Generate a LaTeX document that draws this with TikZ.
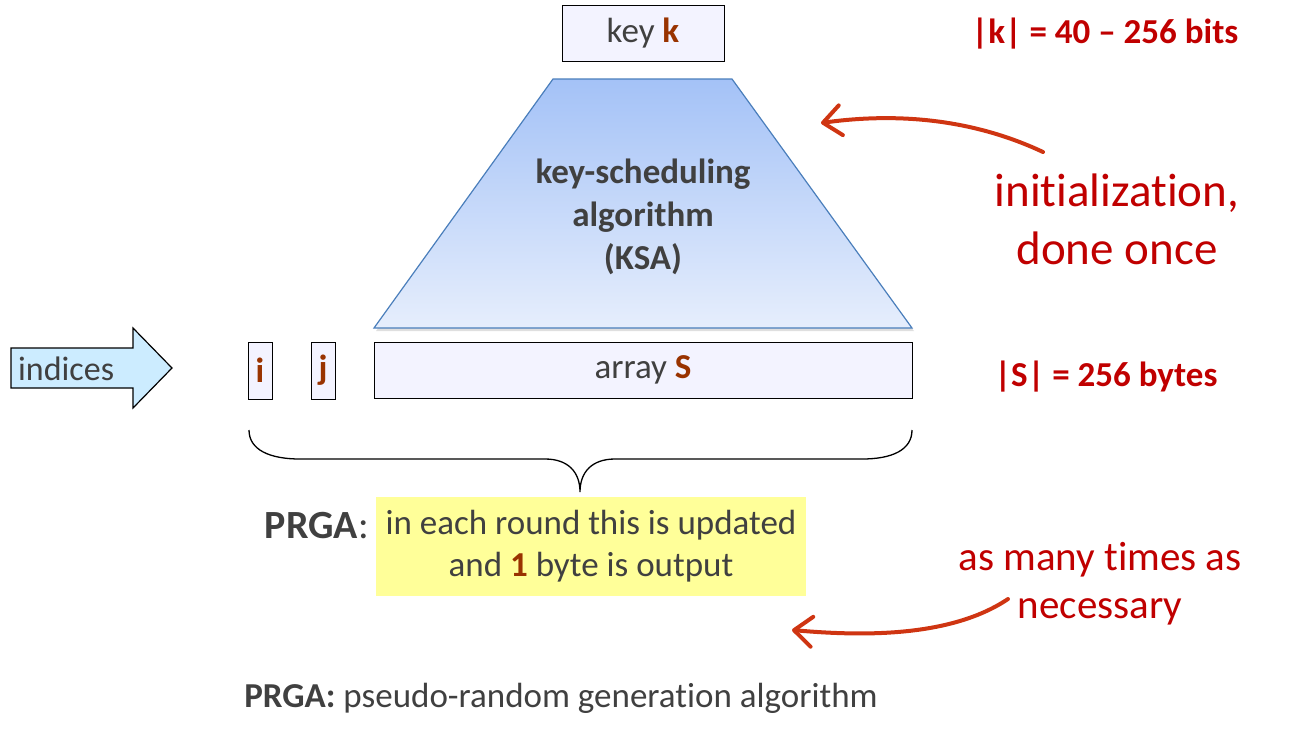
\documentclass[tikz,border=0pt]{standalone}
\usepackage{fontspec}
\setmainfont[Ligatures={NoCommon,TeX}]{Carlito}
\usetikzlibrary{arrows.meta,shadows}

\definecolor{txtgrey}{HTML}{404040}
\definecolor{notered}{HTML}{C00000}
\definecolor{varbrown}{HTML}{993300}
\definecolor{boxlav}{HTML}{F3F3FF}
\definecolor{idxblue}{HTML}{CCECFF}
\definecolor{prgayellow}{HTML}{FFFF99}
\definecolor{ksaedge}{HTML}{4A7EBB}
\definecolor{ksatop}{HTML}{A4C2F7}
\definecolor{ksabot}{HTML}{E6EEFC}
\definecolor{handred}{HTML}{CF3512}

\newcommand{\var}[1]{\textbf{\textcolor{varbrown}{#1}}}
\newcommand{\fsz}[2]{\fontsize{#1}{#2}\selectfont}
\newcommand{\tsep}{t\kern0pt}

\tikzset{
  cell/.style={draw=black, fill=boxlav, inner sep=0pt, text=txtgrey, font=\fsz{35}{40}},
  note/.style={text=notered, align=center, inner sep=0pt},
  hand/.style={draw=handred, line width=4pt, line cap=round,
    -{Straight Barb[length=18pt, width=30pt, round]}}
}

\begin{document}
\begin{tikzpicture}[x=1pt, y=-1pt]
    \useasboundingbox (0,0) rectangle (1290,740);

    % Clave
    \node[cell, minimum width=162pt, minimum height=56pt] (key) at (643,33) {key \var{k}};

    % KSA
    \path[draw=ksaedge, line width=1.2pt, top color=ksatop, bottom color=ksabot,
      drop shadow={shadow xshift=2pt, shadow yshift=-3pt, opacity=0.25}]
      (553,79) -- (732,79) -- (912,328) -- (374,328) -- cycle;
    \node[align=center, text=txtgrey, font=\bfseries\fsz{35}{43}] (ksa) at (643,217)
      {key-scheduling\\algorithm\\(KSA)};

    % Estado
    \node[cell, minimum width=538pt, minimum height=56pt] (arr) at (643,370) {array \var{S}};
    \node[cell, minimum width=24pt, minimum height=57pt] (i) at (260,370.5) {\var{i}};
    \node[cell, minimum width=24pt, minimum height=57pt] (j) at (323,370.5) {\var{j}};

    % Indices
    \draw[fill=idxblue, line width=1.2pt, line join=miter]
      (11,348) -- (133,348) -- (133,328) -- (172,368) -- (133,408) -- (133,388) -- (11,388) -- cycle;
    \node[anchor=west, text=txtgrey, font=\fsz{34}{36}, inner sep=0pt] (idx) at (18,369) {indices};

    % Llave
    \draw[line width=1.3pt]
      (249,430) .. controls (249,450) and (270,459) .. (300,459) -- (545,459)
      .. controls (568,459) and (580,472) .. (580,492)
      .. controls (580,472) and (592,459) .. (615,459) -- (862,459)
      .. controls (892,459) and (912,450) .. (912,430);

    % PRGA
    \node[fill=prgayellow, minimum width=430pt, minimum height=99pt, align=center,
      text=txtgrey, font=\fsz{35}{42}, inner sep=0pt] (prga) at (591,546.5)
      {in each round this is updated\\and \var{1} byte is output};
    \node[anchor=east, text=txtgrey, font=\fsz{40}{40}, inner sep=0pt] (prgalbl) at (369,526)
      {\textbf{PRGA}:};

    % Notas
    \node[note, font=\bfseries\fsz{35}{36}] (klen) at (1105,34) {|k| = 40 -- 256 bits};
    \node[note, font=\bfseries\fsz{35}{36}] (slen) at (1106,377) {|S| = 256 bytes};
    \node[note, font=\fsz{47}{58}] (init) at (1117,219) {ini\tsep ializa\tsep ion,\\done once};
    \node[note, font=\fsz{41}{48}] (many) at (1100,584) {as many \tsep imes as\\necessary};

    % Flechas
    \coordinate (initstart) at (1043,152);
    \coordinate (ksatip) at (821,123);
    \coordinate (manystart) at (1008,599);
    \coordinate (prgatip) at (792,630);
    \draw[hand] (initstart) .. controls (975,120) and (900,112) .. (ksatip);
    \draw[hand] (manystart) .. controls (950,638) and (860,636) .. (prgatip);

    % Pie
    \node[text=txtgrey, font=\fsz{35}{36}, inner sep=0pt] (foot) at (561,698)
      {\textbf{PRGA:} pseudo-random generation algorithm};
\end{tikzpicture}
\end{document}
